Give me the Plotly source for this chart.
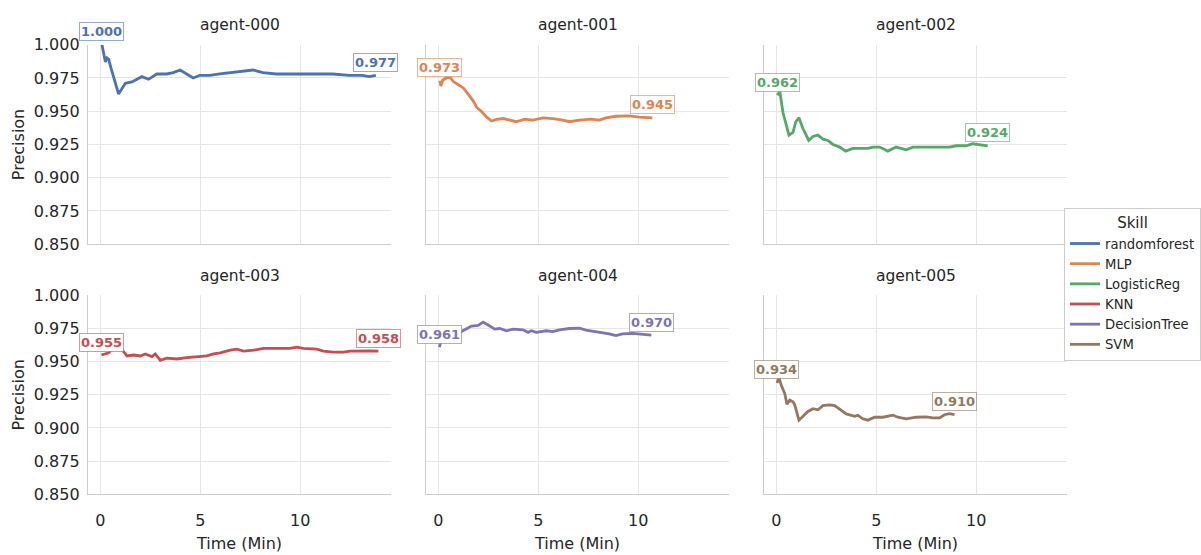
import plotly.graph_objects as go

W, H = 1201, 555

agents = ["agent-000", "agent-001", "agent-002", "agent-003", "agent-004", "agent-005"]
skills = ["randomforest", "MLP", "LogisticReg", "KNN", "DecisionTree", "SVM"]
colors = ["#4C72B0", "#DD8452", "#55A868", "#C44E52", "#8172B3", "#937860"]
border_colors = ["rgba(76,114,176,0.6)", "rgba(221,132,82,0.6)", "rgba(85,168,104,0.6)",
                 "rgba(196,78,82,0.6)", "rgba(129,114,179,0.6)", "rgba(147,120,96,0.6)"]

x_ticks = [0, 5, 10]
y_ticks = [0.850, 0.875, 0.900, 0.925, 0.950, 0.975, 1.000]

t_000 = [0.08, 0.25, 0.33, 0.42, 0.5, 0.91, 1.25, 1.58, 1.83, 2.08, 2.41, 2.82, 3.32, 3.65,
         3.99, 4.32, 4.65, 4.98, 5.48, 5.98, 6.64, 7.31, 7.64, 8.14, 8.80, 9.47, 10.96, 11.63,
         12.46, 13.12, 13.46, 13.79]
p_000 = [1.000, 0.987, 0.990, 0.989, 0.984, 0.963, 0.971, 0.972, 0.974, 0.976, 0.974, 0.978,
         0.978, 0.979, 0.981, 0.978, 0.975, 0.977, 0.977, 0.978, 0.979, 0.980, 0.981, 0.979,
         0.978, 0.978, 0.978, 0.978, 0.977, 0.977, 0.976, 0.977]

t_001 = [0.08, 0.12, 0.22, 0.42, 0.58, 0.75, 1.0, 1.25, 1.5, 1.74, 1.91, 2.16, 2.41, 2.66,
         2.91, 3.24, 3.57, 3.9, 4.32, 4.73, 5.23, 5.73, 6.23, 6.56, 7.06, 7.64, 8.06, 8.39,
         8.89, 9.55, 10.05, 10.71]
p_001 = [0.973, 0.969, 0.9735, 0.9752, 0.9754, 0.9723, 0.9699, 0.9675, 0.9626, 0.9578, 0.953,
         0.9498, 0.9457, 0.9426, 0.9438, 0.9445, 0.9433, 0.9421, 0.9441, 0.9433, 0.945, 0.9445,
         0.9433, 0.9421, 0.9433, 0.9441, 0.9433, 0.945, 0.9462, 0.9465, 0.9455, 0.945]

t_002 = [0.05, 0.17, 0.33, 0.63, 0.83, 0.97, 1.13, 1.33, 1.62, 1.83, 2.08, 2.33, 2.58, 2.83,
         3.17, 3.47, 3.83, 4.17, 4.58, 4.83, 5.17, 5.58, 6.0, 6.5, 6.83, 7.33, 8.17, 8.67, 9.0,
         9.5, 9.83, 10.17, 10.58]
p_002 = [0.962, 0.965, 0.949, 0.932, 0.934, 0.942, 0.945, 0.937, 0.928, 0.931, 0.932, 0.929,
         0.928, 0.925, 0.923, 0.920, 0.922, 0.922, 0.922, 0.923, 0.923, 0.920, 0.923, 0.921,
         0.923, 0.923, 0.923, 0.923, 0.924, 0.924, 0.9255, 0.925, 0.924]

t_003 = [0.05, 0.25, 0.42, 0.58, 0.75, 1.17, 1.33, 1.67, 2.0, 2.25, 2.58, 2.75, 3.0, 3.33,
         3.83, 4.33, 4.83, 5.33, 5.67, 6.0, 6.5, 6.83, 7.17, 7.67, 8.17, 8.83, 9.5, 9.83,
         10.17, 10.83, 11.17, 11.67, 12.17, 12.5, 13.0, 13.5, 13.92]
p_003 = [0.955, 0.9558, 0.9567, 0.960, 0.963, 0.9575, 0.9543, 0.955, 0.9543, 0.9558, 0.9538,
         0.9558, 0.951, 0.9526, 0.952, 0.953, 0.9538, 0.9543, 0.9558, 0.9567, 0.9587, 0.9594,
         0.958, 0.9587, 0.960, 0.960, 0.960, 0.9609, 0.960, 0.9594, 0.958, 0.9572, 0.9572,
         0.958, 0.9582, 0.9582, 0.958]

t_004 = [0.05, 0.12, 0.25, 0.58, 1.08, 1.41, 1.66, 1.99, 2.24, 2.49, 2.82, 3.07, 3.41, 3.74,
         4.24, 4.49, 4.65, 4.9, 5.4, 5.73, 6.06, 6.56, 7.06, 7.39, 7.89, 8.22, 8.55, 8.89,
         9.22, 9.72, 10.22, 10.66]
p_004 = [0.961, 0.9648, 0.9684, 0.9709, 0.9721, 0.9745, 0.9769, 0.9774, 0.9798, 0.9776,
         0.9745, 0.975, 0.9733, 0.9745, 0.974, 0.9721, 0.9733, 0.9721, 0.9733, 0.9726, 0.974,
         0.975, 0.9752, 0.9738, 0.9726, 0.9721, 0.9709, 0.9696, 0.9709, 0.9713, 0.9709, 0.970]

t_005 = [0.03, 0.13, 0.25, 0.42, 0.53, 0.67, 0.83, 0.92, 1.13, 1.33, 1.58, 1.83, 2.08, 2.33,
         2.67, 2.92, 3.17, 3.5, 3.92, 4.08, 4.33, 4.58, 4.92, 5.33, 5.83, 6.08, 6.5, 7.0, 7.5,
         7.83, 8.17, 8.42, 8.67, 8.92]
p_005 = [0.934, 0.938, 0.932, 0.9259, 0.9179, 0.921, 0.9198, 0.9174, 0.9059, 0.9088, 0.9125,
         0.9145, 0.9137, 0.9169, 0.9174, 0.9169, 0.9142, 0.9106, 0.9088, 0.9096, 0.9069, 0.9059,
         0.9081, 0.9081, 0.9096, 0.9081, 0.9069, 0.9081, 0.9083, 0.9076, 0.9076, 0.910, 0.9108,
         0.910]

times = [t_000, t_001, t_002, t_003, t_004, t_005]
precisions = [p_000, p_001, p_002, p_003, p_004, p_005]

# panel pixel boxes
col_px = [(88, 391), (426, 729), (764, 1067)]
row_px = [(37, 243.5), (296.5, 502.5)]

FONT = "DejaVu Sans"
TXT = "#262626"

fig = go.Figure()
layout = dict(
    width=W, height=H, margin=dict(l=0, r=0, t=0, b=0),
    paper_bgcolor="white", plot_bgcolor="white",
    font=dict(family=FONT, color=TXT, size=16),
    showlegend=True,
    legend=dict(
        x=1064 / W, y=1 - 206 / H, xanchor="left", yanchor="top",
        bordercolor="#cccccc", borderwidth=1, bgcolor="white",
        font=dict(family=FONT, size=13.2, color=TXT),
        title=dict(text="Skill", side="top center", font=dict(family=FONT, size=15, color=TXT)),
    ),
)
annotations = []

for i in range(6):
    r, c = divmod(i, 3)
    xa = "x" if i == 0 else f"x{i+1}"
    ya = "y" if i == 0 else f"y{i+1}"
    xkey = "xaxis" if i == 0 else f"xaxis{i+1}"
    ykey = "yaxis" if i == 0 else f"yaxis{i+1}"
    x0, x1 = col_px[c]
    y0, y1 = row_px[r]
    layout[xkey] = dict(
        domain=[x0 / W, x1 / W], anchor=ya, range=[-0.62, 14.55],
        tickvals=x_ticks, showticklabels=(r == 1),
        ticks="outside", ticklen=11, tickcolor="rgba(0,0,0,0)",
        tickfont=dict(size=16, color=TXT, family=FONT),
        showgrid=True, gridcolor="#e6e6e6", gridwidth=1,
        showline=True, linecolor="#cccccc", linewidth=1.3, zeroline=False,
        title=dict(text="Time (Min)" if r == 1 else "", font=dict(size=16, color=TXT), standoff=9),
    )
    layout[ykey] = dict(
        domain=[1 - y1 / H, 1 - y0 / H], anchor=xa, range=[0.85, 1.0],
        tickvals=y_ticks, tickformat=".3f", showticklabels=(c == 0),
        ticks="outside", ticklen=4, tickcolor="rgba(0,0,0,0)",
        tickfont=dict(size=16, color=TXT, family=FONT),
        showgrid=True, gridcolor="#e6e6e6", gridwidth=1,
        showline=True, linecolor="#cccccc", linewidth=1.3, zeroline=False,
        title=dict(text="Precision" if c == 0 else "", font=dict(size=16, color=TXT), standoff=5),
    )
    fig.add_trace(go.Scatter(
        x=times[i], y=precisions[i], mode="lines", name=skills[i],
        line=dict(color=colors[i], width=2.8), xaxis=xa, yaxis=ya,
    ))
    # panel title
    annotations.append(dict(
        text=agents[i], xref="paper", yref="paper",
        x=(x0 + x1) / 2 / W, y=1 - (y0 - 20) / H, xanchor="center", yanchor="middle",
        showarrow=False, font=dict(family=FONT, size=15.5, color=TXT),
    ))
    # start / end labels
    for k in (0, -1):
        annotations.append(dict(
            text=f"{precisions[i][k]:.3f}", xref=xa, yref=ya,
            x=times[i][k], y=precisions[i][k], xanchor="center", yanchor="middle",
            yshift=13, showarrow=False,
            font=dict(family=FONT, size=13, color=colors[i], weight="bold"),
            bgcolor="white", bordercolor=border_colors[i], borderwidth=1, borderpad=1,
        ))

layout["annotations"] = annotations
fig.update_layout(**layout)
fig.write_html("out.html")
